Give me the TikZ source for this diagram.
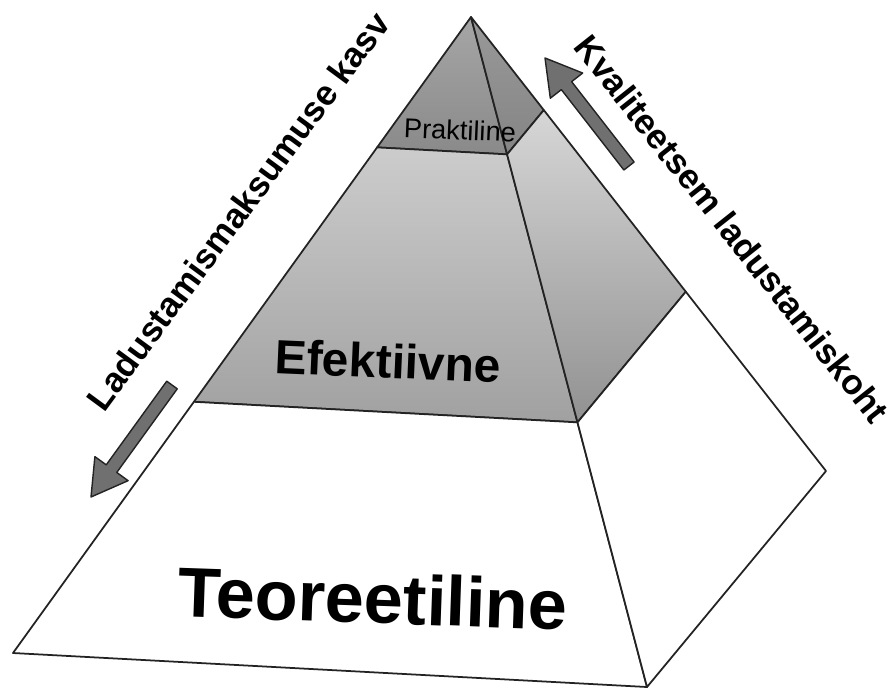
\documentclass[tikz,border=0pt]{standalone}
\usepackage{fontspec}
\setmainfont{Liberation Sans}
\usetikzlibrary{calc}
\definecolor{edgegray}{RGB}{35,35,35}
\definecolor{arrowgray}{RGB}{112,112,112}

\newcommand{\fatarrow}[2]{%
  \coordinate (#1b) at ($(#2)!0.7cm!(#1)$);
  \filldraw[fatarrow] ($(#1)!0.13cm!90:(#2)$) -- ($(#1b)!0.13cm!90:(#2)$) -- ($(#1b)!0.41cm!90:(#2)$)
    -- (#2) -- ($(#1b)!0.41cm!-90:(#2)$) -- ($(#1b)!0.13cm!-90:(#2)$) -- ($(#1)!0.13cm!-90:(#2)$) -- cycle;}

\begin{document}
\begin{tikzpicture}[x=0.02cm,y=-0.02cm,line join=round,
  edge/.style={draw=edgegray,line width=1pt},
  fatarrow/.style={fill=arrowgray,draw=edgegray,line width=0.8pt},
  sidelabel/.style={font=\fontsize{19.9}{22}\selectfont\bfseries,inner sep=0pt}]
  \useasboundingbox (0,0) rectangle (891,690);
  \coordinate (apex) at (471,17);
  \coordinate (baseL) at (13,653);
  \coordinate (baseF) at (647,687);
  \coordinate (baseR) at (826,471);
  \foreach \lvl/\t in {1/0.205,2/0.605}{
    \coordinate (l\lvl) at ($(apex)!\t!(baseL)$);
    \coordinate (f\lvl) at ($(apex)!\t!(baseF)$);
    \coordinate (r\lvl) at ($(apex)!\t!(baseR)$);
  }
  \shadedraw[edge,top color=black!35,bottom color=black!46] (apex) -- (l1) -- (f1) -- cycle;
  \shadedraw[edge,top color=black!40,bottom color=black!48] (apex) -- (f1) -- (r1) -- cycle;
  \shadedraw[edge,top color=black!20,bottom color=black!37] (l1) -- (l2) -- (f2) -- (f1) -- cycle;
  \shadedraw[edge,top color=black!16,bottom color=black!43] (f1) -- (f2) -- (r2) -- (r1) -- cycle;
  \filldraw[edge,fill=white] (l2) -- (baseL) -- (baseF) -- (f2) -- cycle;
  \filldraw[edge,fill=white] (f2) -- (baseF) -- (baseR) -- (r2) -- cycle;

  \node[font=\fontsize{15.5}{17}\selectfont,rotate=-2.5,inner sep=0pt] (prakt) at (460,130) {Praktiline};
  \node[font=\fontsize{27.3}{30}\selectfont\bfseries,rotate=-2.5,inner sep=0pt] (efekt) at (388,361) {Efektiivne};
  \node[font=\fontsize{40}{44}\selectfont\bfseries,rotate=-2,inner sep=0pt] (teor) at (373,598) {Teoreetiline};

  \node[sidelabel,rotate=53.6] (cost) at (238,211) {Ladustamismaksumuse kasv};
  \node[sidelabel,rotate=-51.6] (quality) at (732,229) {Kvaliteetsem ladustamiskoht};

  \coordinate (costTail) at (172,385);
  \coordinate (costTip) at (91,497);
  \coordinate (qualTail) at (629,166);
  \coordinate (qualTip) at (545,58);
  \fatarrow{costTail}{costTip}
  \fatarrow{qualTail}{qualTip}
\end{tikzpicture}
\end{document}
